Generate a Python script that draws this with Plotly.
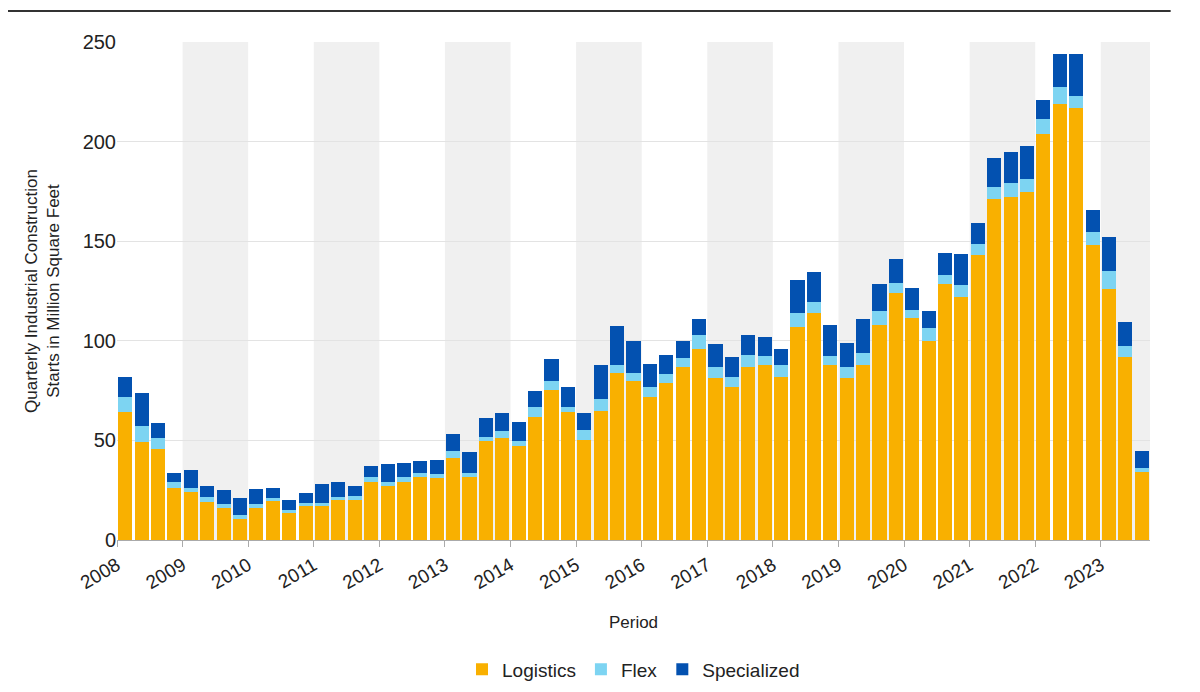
import plotly.graph_objects as go

logistics = [64.5,49,45.5,26, 24,19,16,10.5, 16,20,13.5,17, 17,20,20,29,
             27,29,31.7,31, 41,31.4,49.6,51.4, 47,62,75.5,64.5, 50.4,65,84,80,
             72,79,87,96, 81.5,77,86.6,88, 82,107,114,88, 81.5,88,107.8,124,
             111.5,100,128.7,122, 143,171,172,174.5, 203.6,218.7,217,148, 126,92,34]
flex = [7.5,8,5.5,3, 2,2.7,2.3,2.2, 2,1,1.8,1.7, 1.7,1.7,2,2.4,
        2,2.4,2.1,2, 3.5,2.2,2.2,3.3, 2.7,4.7,4.3,2.2, 4.6,6,4,4,
        4.7,4.5,4.5,7, 5.5,5,6.4,4.5, 6,7,5.7,4.5, 5.1,6,7.2,5,
        3.9,6.6,4.3,5.8, 5.6,6,7,6.8, 7.8,8.8,5.7,6.5, 9,5.6,2]
specialized = [10,17,7.5,4.5, 9,5.3,6.7,8.3, 7.5,5,4.7,4.9, 9.3,7.3,5,6,
               9,7.3,5.8,7.4, 8.5,10.4,9.2,9, 9.3,8.3,11.2,10.3, 8.7,17,19.5,16,
               11.9,9.5,8.5,8, 11.5,10,10,9.5, 8,16.7,14.8,15.5, 12.4,17,13.7,12,
               11.1,8.4,11,16, 10.4,15,15.7,16.7, 9.3,16.5,21.3,11, 17,11.9,8.7]
years = list(range(2008, 2024))
x = [2008 + (i + 0.5) / 4 for i in range(len(logistics))]

fig = go.Figure()
fig.add_bar(x=x, y=logistics, name="Logistics", marker_color="#F9B000", width=0.215, marker_line_width=0)
fig.add_bar(x=x, y=flex, name="Flex", marker_color="#7DD4F2", width=0.215, marker_line_width=0)
fig.add_bar(x=x, y=specialized, name="Specialized", marker_color="#0351B0", width=0.215, marker_line_width=0)

for yr in years[1::2]:
    fig.add_vrect(x0=yr, x1=yr + 1, fillcolor="#F0F0F0", line_width=0, layer="below")

fig.add_shape(type="line", xref="paper", yref="paper", x0=-0.12, x1=1.02, y0=1.062, y1=1.062,
              line=dict(color="#333", width=2))

fig.update_layout(
    barmode="stack", width=1200, height=692, plot_bgcolor="white", paper_bgcolor="white",
    margin=dict(l=109, r=58, t=34, b=138),
    font=dict(family="Liberation Sans, Arial", color="#222"),
    bargap=0,
    legend=dict(orientation="h", x=0.5, xanchor="center", y=-0.26, yanchor="middle",
                font=dict(size=19), traceorder="normal"),
    xaxis=dict(range=[2008, 2023.75], tickvals=years, ticktext=[str(y) for y in years],
               tickangle=-30, tickfont=dict(size=19), showgrid=False, ticks="outside",
               ticklen=6, tickcolor="#aaa", showline=True, linecolor="#aaa", automargin=False,
               title=dict(text="Period", font=dict(size=17), standoff=23)),
    yaxis=dict(range=[0, 250], dtick=50, tickfont=dict(size=20), gridcolor="#e3e3e3",
               zeroline=False, automargin=False,
               title=dict(text="Quarterly Industrial Construction<br>Starts in Million Square Feet",
                          font=dict(size=17), standoff=18)),
)
fig.write_html("out.html")
